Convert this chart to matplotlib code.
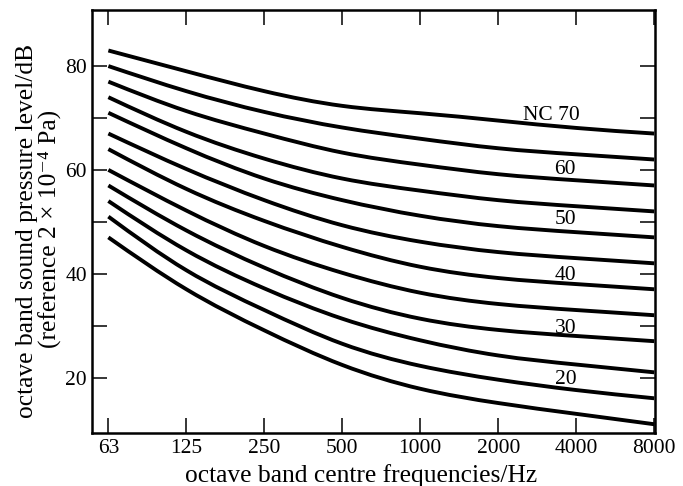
# NC (noise criterion) curves, octave band levels
import numpy as np
import matplotlib.pyplot as plt
from matplotlib.path import Path
from matplotlib.patches import PathPatch

# %% DATA
bands = ['63', '125', '250', '500', '1000', '2000', '4000', '8000']
nc_15 = [47, 36.5, 29, 22, 17.5, 15, 13, 11]
nc_20 = [51, 40, 33, 26, 22, 19.5, 17.5, 16]
nc_25 = [54, 44, 37, 31, 27, 24, 22.5, 21]
nc_30 = [57, 48, 41, 35, 31, 29, 28, 27]
nc_35 = [60, 52, 45, 40, 36, 34, 33, 32]
nc_40 = [64, 56, 50, 45, 41, 39, 38, 37]
nc_45 = [67, 60, 54, 49, 46, 44, 43, 42]
nc_50 = [71, 64, 58, 54, 51, 49, 48, 47]
nc_55 = [74, 67, 62, 58, 56, 54, 53, 52]
nc_60 = [77, 71, 67, 63, 61, 59, 58, 57]
nc_65 = [80, 75, 71, 68, 66, 64, 63, 62]
nc_70 = [83, 79, 75, 72, 71, 69.5, 68, 67]
curves = [nc_15, nc_20, nc_25, nc_30, nc_35, nc_40,
          nc_45, nc_50, nc_55, nc_60, nc_65, nc_70]
curve_labels = ['NC 70', '60', '50', '40', '30', '20']


# %% FUNCTION DEFINITIONS
def smooth_path(xs, ys):
    """Cubic B-spline drawn with the points as control polygon
    (end points are kept), so the line looks like a drafted curve."""
    p = np.column_stack([xs, ys]).astype(float)
    p = np.vstack([2 * p[0] - p[1], p, 2 * p[-1] - p[-2]])
    verts = []
    codes = []
    for i in range(1, len(p) - 2):
        b0 = (p[i - 1] + 4 * p[i] + p[i + 1]) / 6.0
        b1 = (2 * p[i] + p[i + 1]) / 3.0
        b2 = (p[i] + 2 * p[i + 1]) / 3.0
        b3 = (p[i] + 4 * p[i + 1] + p[i + 2]) / 6.0
        if not verts:
            verts.append(b0)
            codes.append(Path.MOVETO)
        verts += [b1, b2, b3]
        codes += [Path.CURVE4] * 3
    return Path(verts, codes)


# %% PLOT
plt.rcParams['font.family'] = ['Liberation Serif', 'DejaVu Serif']
FS = 15.5
LFS = 18.4

fig = plt.figure(figsize=(6.83, 4.86), dpi=100)
ax = fig.add_axes([0.1347, 0.110, 0.8243, 0.8694])

x = np.arange(len(bands))
for c in curves:
    ax.add_patch(PathPatch(smooth_path(x, c), facecolor='none',
                           edgecolor='black', lw=2.8, capstyle='butt'))

# curve labels
ax.text(5.68, 70.4, curve_labels[0], ha='center', va='center', fontsize=FS)
for lab, yy in zip(curve_labels[1:], [60.0, 50.4, 39.7, 29.4, 19.7]):
    ax.text(5.86, yy, lab, ha='center', va='center', fontsize=FS)

ax.set_xlim(-0.21, 7.01)
ax.set_ylim(9.4, 90.8)
ax.set_xticks(x)
ax.set_xticklabels(bands, fontsize=FS)
ax.set_yticks([20, 40, 60, 80])
ax.set_yticks([30, 50, 70], minor=True)
ax.tick_params(axis='both', which='both', direction='in', length=10.5,
               width=1.1, top=True, right=True, labelsize=FS)
ax.tick_params(axis='x', which='major', pad=4.5)
ax.tick_params(axis='y', which='major', pad=3.6)

for s in ax.spines.values():
    s.set_linewidth(1.8)

fig.text(0.528, 0.009, 'octave band centre frequencies/Hz', ha='center',
         va='baseline', fontsize=LFS)
fig.text(0.0483, 0.525, 'octave band sound pressure level/dB', rotation=90,
         rotation_mode='anchor', ha='center', va='baseline', fontsize=LFS)
fig.text(0.082, 0.529, '(reference 2 \u00d7 10\u207b\u2074 Pa)', rotation=90,
         rotation_mode='anchor', ha='center', va='baseline', fontsize=LFS)

fig.savefig('out.png', dpi=100)
